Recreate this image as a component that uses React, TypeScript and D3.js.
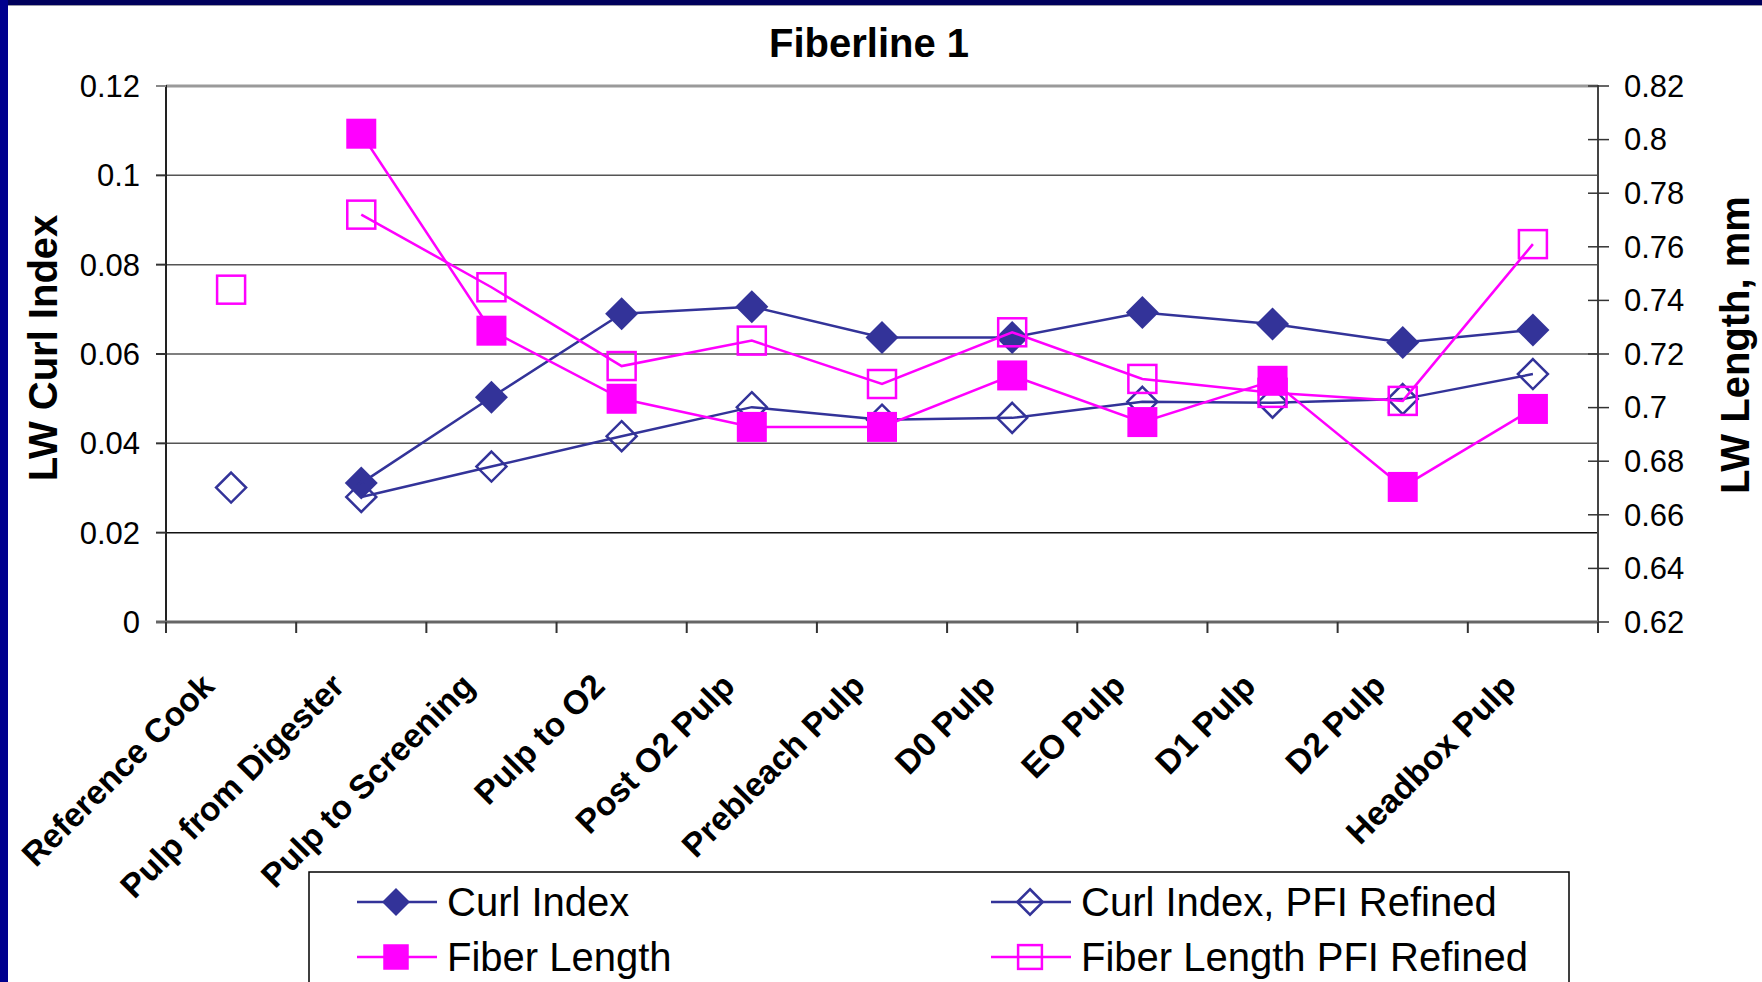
import React from "react";
import * as d3 from "d3";

const categories = [
  "Reference Cook",
  "Pulp from Digester",
  "Pulp to Screening",
  "Pulp to O2",
  "Post O2 Pulp",
  "Prebleach Pulp",
  "D0 Pulp",
  "EO Pulp",
  "D1 Pulp",
  "D2 Pulp",
  "Headbox Pulp",
];

// Left axis (LW Curl Index)
const curlIndex: (number | null)[] = [null, 0.0311, 0.0503, 0.069, 0.0706, 0.0637, 0.0637, 0.0693, 0.0667, 0.0626, 0.0654];
const curlIndexPFI: (number | null)[] = [0.0301, 0.028, 0.0348, 0.0416, 0.0481, 0.0453, 0.0457, 0.0493, 0.0491, 0.0499, 0.0555];
// Right axis (LW Length, mm)
const fiberLength: (number | null)[] = [null, 0.8022, 0.7287, 0.7033, 0.6928, 0.6928, 0.712, 0.6946, 0.71, 0.6704, 0.6995];
const fiberLengthPFI: (number | null)[] = [0.744, 0.772, 0.7449, 0.7155, 0.725, 0.7088, 0.7281, 0.7107, 0.7055, 0.7025, 0.761];

const leftTicks = [0, 0.02, 0.04, 0.06, 0.08, 0.1, 0.12];
const leftTickLabels = ["0", "0.02", "0.04", "0.06", "0.08", "0.1", "0.12"];
const rightTicks = [0.62, 0.64, 0.66, 0.68, 0.7, 0.72, 0.74, 0.76, 0.78, 0.8, 0.82];
const rightTickLabels = ["0.62", "0.64", "0.66", "0.68", "0.7", "0.72", "0.74", "0.76", "0.78", "0.8", "0.82"];

// the first category (Reference Cook) is plotted but not joined by the lines
const firstJoined = 1;

const NAVY = "#333399";
const MAGENTA = "#FF00FF";
const FONT = "'Liberation Sans', Arial, Helvetica, sans-serif";

const W = 1762;
const H = 982;
const L = 166;
const R = 1598;
const T = 86;
const B = 622;

export default function App() {
  const x = d3.scaleBand<string>().domain(categories).range([L, R]).padding(0);
  const cx = (i: number) => (x(categories[i]) as number) + x.bandwidth() / 2;
  const yL = d3.scaleLinear().domain([0, 0.12]).range([B, T]);
  const yR = d3.scaleLinear().domain([0.62, 0.82]).range([B, T]);

  const mkLine = (scale: d3.ScaleLinear<number, number>) =>
    d3
      .line<number | null>()
      .defined((d, i) => d != null && i >= firstJoined)
      .x((_, i) => cx(i))
      .y((d) => scale(d as number));

  const diamond = (px: number, py: number, r: number) =>
    `M${px},${py - r}L${px + r},${py}L${px},${py + r}L${px - r},${py}Z`;

  const boundaries = d3.range(categories.length + 1).map((i) => L + i * x.bandwidth());

  type Series = { name: string; values: (number | null)[]; scale: any; color: string; marker: string };
  const series: Series[] = [
    { name: "Curl Index", values: curlIndex, scale: yL, color: NAVY, marker: "fdiamond" },
    { name: "Curl Index, PFI Refined", values: curlIndexPFI, scale: yL, color: NAVY, marker: "odiamond" },
    { name: "Fiber Length", values: fiberLength, scale: yR, color: MAGENTA, marker: "fsquare" },
    { name: "Fiber Length PFI Refined", values: fiberLengthPFI, scale: yR, color: MAGENTA, marker: "osquare" },
  ];

  const marker = (kind: string, px: number, py: number, color: string, legend = false, key?: any) => {
    const k = legend ? 0.85 : 1;
    if (kind === "fdiamond") return <path key={key} d={diamond(px, py, 16.5 * k)} fill={color} />;
    if (kind === "odiamond")
      return <path key={key} d={diamond(px, py, 15 * k)} fill="none" stroke={color} strokeWidth={2.5} />;
    if (kind === "fsquare") {
      const s = 30 * k;
      return <rect key={key} x={px - s / 2} y={py - s / 2} width={s} height={s} fill={color} />;
    }
    const s = 28 * k;
    return <rect key={key} x={px - s / 2} y={py - s / 2} width={s} height={s} fill="white" fillOpacity={0} stroke={color} strokeWidth={2.5} />;
  };

  const legendItems = [
    { s: series[0], lx: 357, tx: 447, y: 902 },
    { s: series[2], lx: 357, tx: 447, y: 957 },
    { s: series[1], lx: 991, tx: 1081, y: 902 },
    { s: series[3], lx: 991, tx: 1081, y: 957 },
  ];

  return (
    <svg
      width={W}
      height={H}
      viewBox={`0 0 ${W} ${H}`}
      style={{ position: "absolute", left: 0, top: 0, display: "block", background: "white" }}
      fontFamily={FONT}
    >
      <rect x={0} y={0} width={W} height={H} fill="white" />
      <rect x={0} y={0} width={W} height={5} fill="#00005C" />
      <rect x={0} y={5} width={W} height={1} fill="#9a9aa8" />
      <rect x={0} y={0} width={8} height={H} fill="#00008E" />

      {/* title */}
      <text x={869} y={57} textAnchor="middle" fontWeight="bold" fontSize={40} fill="black">
        Fiberline 1
      </text>

      {/* gridlines */}
      {leftTicks.slice(1).map((t, i) => (
        <line
          key={"g" + i}
          x1={L}
          x2={R}
          y1={yL(t)}
          y2={yL(t)}
          stroke={t === 0.12 ? "#9a9a9a" : t === 0.02 ? "#111" : "#555"}
          strokeWidth={t === 0.12 ? 3 : 1.5}
        />
      ))}

      {/* left axis */}
      <line x1={L} x2={L} y1={T - 1} y2={B + 11} stroke="#222" strokeWidth={2} />
      {leftTicks.map((t, i) => (
        <g key={"lt" + i}>
          <line x1={L - 10} x2={L} y1={yL(t)} y2={yL(t)} stroke={t === 0.12 ? "#888" : "#333"} strokeWidth={2} />
          <text x={140} y={yL(t)} dy="0.35em" textAnchor="end" fontSize={31} fill="black">
            {leftTickLabels[i]}
          </text>
        </g>
      ))}

      {/* right axis */}
      <line x1={R} x2={R} y1={T - 1} y2={B + 11} stroke="#444" strokeWidth={2} />
      {rightTicks.map((t, i) => (
        <g key={"rt" + i}>
          <line x1={R - 10} x2={R + 11} y1={yR(t)} y2={yR(t)} stroke="#333" strokeWidth={1.5} />
          <text x={1624} y={yR(t)} dy="0.35em" textAnchor="start" fontSize={31} fill="black">
            {rightTickLabels[i]}
          </text>
        </g>
      ))}

      {/* x axis */}
      <line x1={L - 10} x2={R} y1={B} y2={B} stroke="#666" strokeWidth={3} />
      {boundaries.map((bx, i) => (
        <line key={"xt" + i} x1={bx} x2={bx} y1={B} y2={B + 11} stroke="#333" strokeWidth={2} />
      ))}
      {categories.map((c, i) => (
        <text
          key={"xl" + i}
          transform={`translate(${cx(i) - 15},${688}) rotate(-45)`}
          textAnchor="end"
          fontWeight="bold"
          fontSize={33.5}
          fill="black"
        >
          {c}
        </text>
      ))}

      {/* axis titles */}
      <text transform={`translate(57,348) rotate(-90)`} textAnchor="middle" fontWeight="bold" fontSize={40} fill="black">
        LW Curl Index
      </text>
      <text transform={`translate(1749,345) rotate(-90)`} textAnchor="middle" fontWeight="bold" fontSize={40} fill="black">
        LW Length, mm
      </text>

      {/* series */}
      {series.map((s, si) => (
        <g key={"s" + si}>
          <path d={mkLine(s.scale)(s.values) || ""} fill="none" stroke={s.color} strokeWidth={2.5} />
          {s.values.map((v, i) => (v == null ? null : marker(s.marker, cx(i), s.scale(v), s.color, false, i)))}
        </g>
      ))}

      {/* legend */}
      <rect x={309} y={872} width={1260} height={140} fill="white" stroke="black" strokeWidth={1.5} />
      {legendItems.map((it, i) => (
        <g key={"lg" + i}>
          <line x1={it.lx} x2={it.lx + 80} y1={it.y} y2={it.y} stroke={it.s.color} strokeWidth={2.5} />
          {marker(it.s.marker, it.lx + 39, it.y, it.s.color, true)}
          <text x={it.tx} y={it.y + 14} fontSize={40} fill="black">
            {it.s.name}
          </text>
        </g>
      ))}
    </svg>
  );
}
